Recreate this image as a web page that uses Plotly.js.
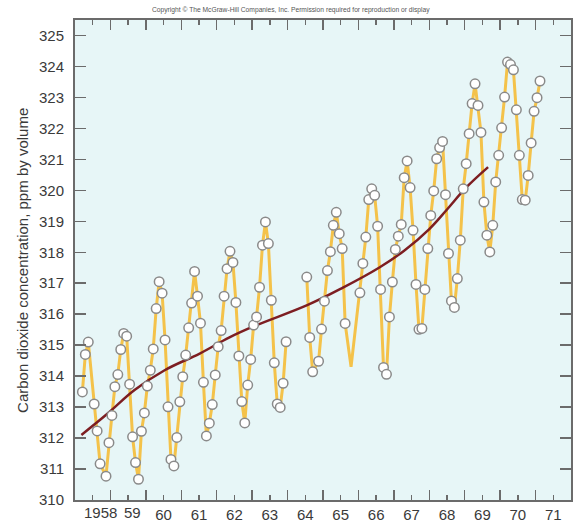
<!DOCTYPE html>
<html><head><meta charset="utf-8">
<script src="https://cdn.plot.ly/plotly-3.0.1.min.js"></script>
<style>html,body{margin:0;padding:0;background:#fff}#chart{width:576px;height:523px}</style>
</head><body><div id="chart"></div>
<script>
// Monthly CO2 readings (ppm)
const measuredMonths = [
 "1958-03","1958-04","1958-05","1958-07","1958-08","1958-09","1958-11","1958-12",
 "1959-01","1959-02","1959-03","1959-04","1959-05","1959-06","1959-07","1959-08","1959-09","1959-10","1959-11","1959-12",
 "1960-01","1960-02","1960-03","1960-04","1960-05","1960-06","1960-07","1960-08","1960-09","1960-10","1960-11","1960-12",
 "1961-01","1961-02","1961-03","1961-04","1961-05","1961-06","1961-07","1961-08","1961-09","1961-10","1961-11","1961-12",
 "1962-01","1962-02","1962-03","1962-04","1962-05","1962-06","1962-07","1962-08","1962-09","1962-10","1962-11","1962-12",
 "1963-01","1963-02","1963-03","1963-04","1963-05","1963-06","1963-07","1963-08","1963-09","1963-10","1963-11","1963-12",
 "1964-07","1964-08","1964-09","1964-11","1964-12",
 "1965-01","1965-02","1965-03","1965-04","1965-05","1965-06","1965-07","1965-08",
 "1966-01","1966-02","1966-03","1966-04","1966-05","1966-06","1966-07","1966-08","1966-09","1966-10","1966-11","1966-12",
 "1967-01","1967-02","1967-03","1967-04","1967-05","1967-06","1967-07","1967-08","1967-09","1967-10","1967-11","1967-12",
 "1968-01","1968-02","1968-03","1968-04","1968-05","1968-06","1968-07","1968-08","1968-09","1968-10","1968-11","1968-12",
 "1969-01","1969-02","1969-03","1969-04","1969-05","1969-06","1969-07","1969-08","1969-09","1969-10","1969-11","1969-12",
 "1970-01","1970-02","1970-03","1970-04","1970-05","1970-06","1970-07","1970-08","1970-09","1970-10","1970-11","1970-12",
 "1971-01","1971-02"
];
const measuredCO2 = [
 313.49,314.70,315.10,313.10,312.23,311.17,310.77,311.85,
 312.73,313.66,314.05,314.86,315.38,315.29,313.74,312.04,311.21,310.67,312.22,312.81,
 313.68,314.19,314.88,316.18,317.05,316.68,315.17,313.01,311.31,311.10,312.02,313.17,
 313.98,314.68,315.56,316.36,317.38,316.58,315.71,313.80,312.07,312.48,313.08,314.04,
 314.95,315.47,316.58,317.47,318.03,317.67,316.38,314.65,313.18,312.49,313.71,314.54,
 315.65,315.91,316.87,318.23,318.98,318.28,316.45,314.43,313.10,312.99,313.77,315.11,
 317.20,315.25,314.14,314.48,315.52,
 316.42,317.41,318.02,318.87,319.29,318.60,318.12,315.70,
 316.69,317.64,318.49,319.70,320.05,319.84,318.84,316.80,314.28,314.06,315.91,317.04,
 318.09,318.52,318.90,320.41,320.95,320.09,318.71,316.96,315.51,315.54,316.80,318.12,
 319.19,319.98,321.02,321.38,321.58,319.86,317.96,316.43,316.22,317.15,318.39,320.05,
 320.86,321.83,322.80,323.44,322.74,321.87,319.62,318.55,318.01,318.87,320.27,321.13,
 322.02,323.01,324.14,324.06,323.89,322.60,321.13,319.70,319.68,320.48,321.53,322.55,
 322.99,323.53
];
// line-only vertex where the record is interpolated (no marker drawn)
const interpolatedMonths = ["1965-10"];
const interpolatedCO2 = [314.30];
// break in the record (line not drawn across)
const gapMonths = ["1964-03"];

// smooth trend curve
const trendYears = [1958.18,1958.93,1959.68,1960.53,1961.52,1962.36,1963.07,1964.57,1965.55,1966.58,1967.29,1968.0,1968.5,1969.05,1969.66];
const trendCO2   = [312.10,312.80,313.55,314.19,314.73,315.25,315.62,316.30,316.85,317.50,318.05,318.75,319.38,320.10,320.75];

const xTickYears  = [1958,1959,1960,1961,1962,1963,1964,1965,1966,1967,1968,1969,1970,1971];
const xTickLabels = ["1958","59","60","61","62","63","64","65","66","67","68","69","70","71"];
const yTicks = [310,311,312,313,314,315,316,317,318,319,320,321,322,323,324,325];

const toYear = s => +s.slice(0,4) + (+s.slice(5,7) - 0.5) / 12;

// merge into one ordered line
const pts = [];
measuredMonths.forEach((m,i)=>pts.push({x:toYear(m), y:measuredCO2[i], show:1}));
interpolatedMonths.forEach((m,i)=>pts.push({x:toYear(m), y:interpolatedCO2[i], show:0}));
gapMonths.forEach(m=>pts.push({x:toYear(m), y:null, show:0}));
pts.sort((a,b)=>a.x-b.x);

const FONT = "Liberation Sans, Arial, Helvetica, sans-serif";
const AX = "#6b6b6b";
const TXT = "#3a3a3a";

const traces = [
 {x: pts.map(p=>p.x), y: pts.map(p=>p.y), type:'scatter', mode:'lines', connectgaps:false,
  line:{color:'#f4c24a', width:3}, hoverinfo:'skip', showlegend:false},
 {x: trendYears, y: trendCO2, type:'scatter', mode:'lines',
  line:{color:'#7d1e22', width:2.5, shape:'spline', smoothing:1.1}, showlegend:false},
 {x: pts.filter(p=>p.show).map(p=>p.x), y: pts.filter(p=>p.show).map(p=>p.y), type:'scatter', mode:'markers',
  marker:{size:9.5, color:'#ffffff', line:{color:'#8a8a8a', width:1.5}}, showlegend:false}
];

const layout = {
 width:576, height:523,
 margin:{l:75, r:5, t:20, b:23},
 paper_bgcolor:'#ffffff', plot_bgcolor:'#e7f6f7',
 font:{family:FONT, color:TXT, size:15},
 showlegend:false,
 xaxis:{
  range:[1958,1972], tickmode:'array',
  tickvals: xTickYears.map(y=>y+0.5),
  ticktext: xTickLabels.map((t,i)=> i<2 ? '' : t),
  ticks:'inside', ticklen:5, tickwidth:1.5, tickcolor:AX,
  minor:{tickmode:'array', tickvals: xTickYears.slice(1), ticks:'inside', ticklen:10, tickwidth:1.5, tickcolor:AX},
  showline:true, linecolor:AX, linewidth:2, mirror:'allticks',
  showgrid:false, zeroline:false, tickfont:{size:15, color:TXT}, fixedrange:true
 },
 yaxis:{
  range:[310,325.5], tickmode:'array', tickvals:yTicks, ticktext:yTicks.map(String),
  ticks:'inside', ticklen:11, tickwidth:1.5, tickcolor:AX, ticklabelstandoff:6,
  showline:true, linecolor:AX, linewidth:2, mirror:'allticks',
  showgrid:false, zeroline:false, tickfont:{size:15, color:TXT}, fixedrange:true
 },
 annotations:[
  {text:xTickLabels[0], xref:'x', yref:'paper', x:xTickYears[0]+1.24, xanchor:'right', y:0, yanchor:'top', yshift:-2,
   showarrow:false, font:{size:15, color:TXT, family:FONT}},
  {text:xTickLabels[1], xref:'x', yref:'paper', x:xTickYears[1]+0.62, xanchor:'center', y:0, yanchor:'top', yshift:-2,
   showarrow:false, font:{size:15, color:TXT, family:FONT}},
  {text:'Carbon dioxide concentration, ppm by volume', xref:'paper', yref:'paper', x:-0.107, y:0.5,
   textangle:-90, showarrow:false, xanchor:'center', yanchor:'middle', font:{size:15, color:TXT, family:FONT}},
  {text:'Copyright © The McGraw-Hill Companies, Inc. Permission required for reproduction or display', xref:'paper', yref:'paper',
   x:(291-75)/496, y:1, yanchor:'bottom', yshift:4, showarrow:false, font:{size:6.7, color:'#555', family:FONT}}
 ]
};

Plotly.newPlot('chart', traces, layout, {staticPlot:true, displayModeBar:false});
</script>
</body></html>
